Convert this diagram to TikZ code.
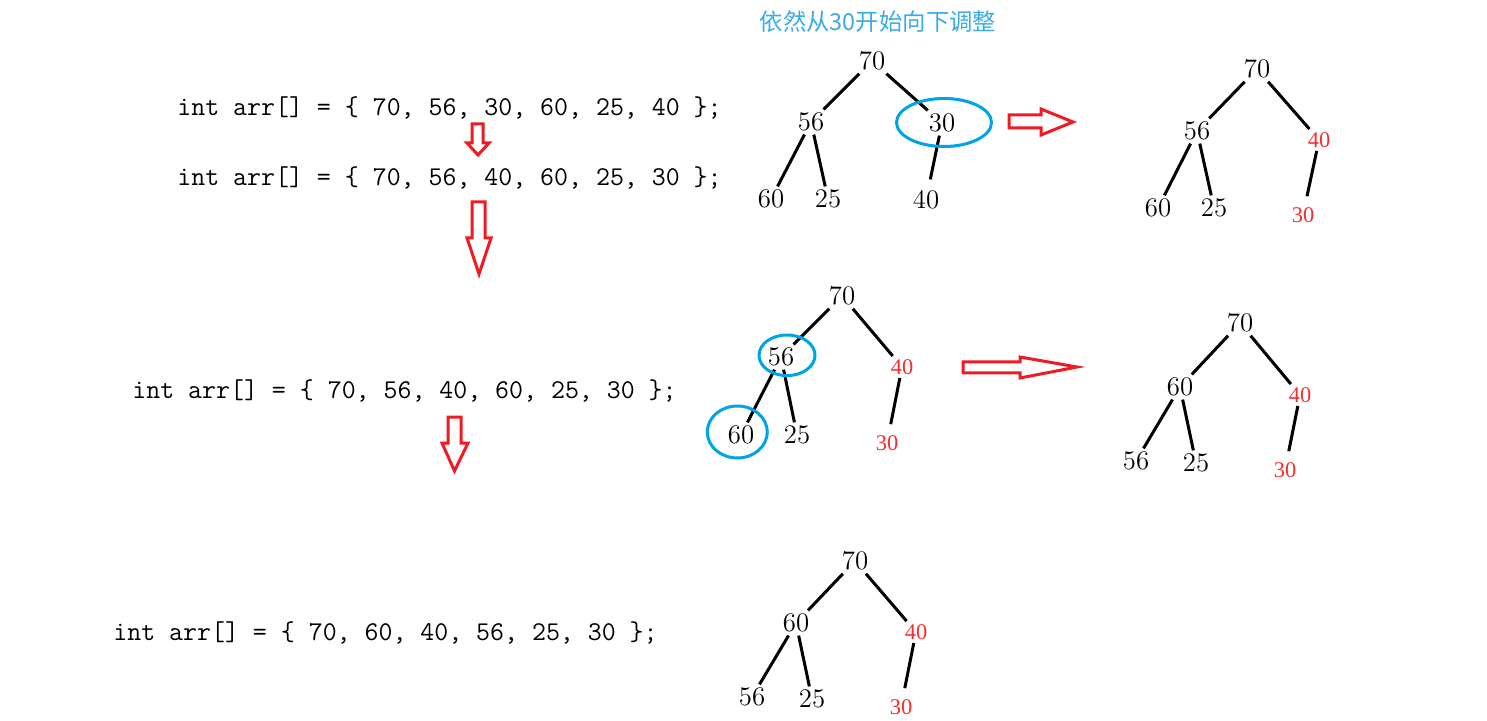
\documentclass[tikz,border=0pt]{standalone}
\usepackage{fontspec}
\usepackage{tikz}
\usetikzlibrary{positioning}
\newfontfamily\cjkfont{Noto Sans CJK SC}
\newfontfamily\redserif{Liberation Serif}
\definecolor{arrowred}{RGB}{237,28,36}
\definecolor{ringblue}{RGB}{0,162,232}
\definecolor{titleblue}{RGB}{58,172,228}
\definecolor{movedred}{RGB}{245,45,45}

\begin{document}
\begin{tikzpicture}[x=0.5pt,y=-0.5pt,
  code/.style={font=\fontsize{13.55}{16}\selectfont\ttfamily,anchor=base west,inner sep=0pt},
  num/.style={font=\fontsize{13.4}{15}\selectfont,inner sep=1.5pt},
  moved/.style={font=\redserif\fontsize{11.2}{13}\selectfont,text=movedred,inner sep=1.5pt},
  branch/.style={line width=1.5pt,shorten >=4pt},
  ring/.style={draw=ringblue,line width=1.5pt},
  hollow/.style={draw=arrowred,line width=1.5pt,line join=miter}]
\useasboundingbox (0,0) rectangle (1487,721);

\node[text=titleblue,font=\cjkfont\fontsize{11.7}{14}\selectfont] (title) at (878,22) {依然从30开始向下调整};

\node[code] (row1) at (177,116) {int arr[] = \{ 70, 56, 30, 60, 25, 40 \};};
\node[code] (row2) at (177,186) {int arr[] = \{ 70, 56, 40, 60, 25, 30 \};};
\node[code] (row3) at (132,398) {int arr[] = \{ 70, 56, 40, 60, 25, 30 \};};
\node[code] (row4) at (113,640) {int arr[] = \{ 70, 60, 40, 56, 25, 30 \};};

\draw[hollow] (472,124) -- (483,124) -- (483,143) -- (489,143) -- (478,155) -- (467,143) -- (472,143) -- cycle;
\draw[hollow] (472,202) -- (485,202) -- (485,238) -- (491,238) -- (479,274) -- (467,238) -- (472,238) -- cycle;
\draw[hollow] (448,417) -- (461,417) -- (461,443) -- (468,443) -- (454.5,471) -- (442,443) -- (448,443) -- cycle;
\draw[hollow] (1009,115) -- (1041,115) -- (1041,109) -- (1073,122) -- (1041,135) -- (1041,128) -- (1009,128) -- cycle;
\draw[hollow] (963,362) -- (1020,362) -- (1020,357) -- (1077,367) -- (1020,378) -- (1020,373) -- (963,373) -- cycle;

\node[num] (a1) at (872,61) {70};
\node[num] (a2) at (811,122) {56};
\node[num] (a3) at (942,123) {30};
\node[num] (a4) at (771,199) {60};
\node[num] (a5) at (828,199) {25};
\node[num] (a6) at (926,200) {40};
\draw[branch] (a1) -- (a2) (a1) -- (a3) (a2) -- (a4) (a2) -- (a5) (a3) -- (a6);
\draw[ring] (944,122.5) ellipse [x radius=47.5, y radius=24];

\node[num] (b1) at (1257,69) {70};
\node[num] (b2) at (1197,131) {56};
\node[moved] (b3) at (1319,140) {40};
\node[num] (b4) at (1158,208) {60};
\node[num] (b5) at (1214,208) {25};
\node[moved] (b6) at (1303,215) {30};
\draw[branch] (b1) -- (b2) (b1) -- (b3) (b2) -- (b4) (b2) -- (b5) (b3) -- (b6);

\node[num] (c1) at (842,296) {70};
\node[num] (c2) at (781,357) {56};
\node[moved] (c3) at (902,367) {40};
\node[num] (c4) at (741,435) {60};
\node[num] (c5) at (797,435) {25};
\node[moved] (c6) at (887,443) {30};
\draw[branch] (c1) -- (c2) (c1) -- (c3) (c2) -- (c4) (c2) -- (c5) (c3) -- (c6);
\draw[ring] (787,355.3) ellipse [x radius=28, y radius=20.3];
\draw[ring] (737.3,432) ellipse [x radius=30, y radius=26];

\node[num] (d1) at (1240,323) {70};
\node[num] (d2) at (1180,387) {60};
\node[moved] (d3) at (1300,395) {40};
\node[num] (d4) at (1136,461) {56};
\node[num] (d5) at (1196,463) {25};
\node[moved] (d6) at (1285,470) {30};
\draw[branch] (d1) -- (d2) (d1) -- (d3) (d2) -- (d4) (d2) -- (d5) (d3) -- (d6);

\node[num] (e1) at (855,561) {70};
\node[num] (e2) at (796,623) {60};
\node[moved] (e3) at (916,632) {40};
\node[num] (e4) at (752,697) {56};
\node[num] (e5) at (812,699) {25};
\node[moved] (e6) at (901,707) {30};
\draw[branch] (e1) -- (e2) (e1) -- (e3) (e2) -- (e4) (e2) -- (e5) (e3) -- (e6);
\end{tikzpicture}
\end{document}
